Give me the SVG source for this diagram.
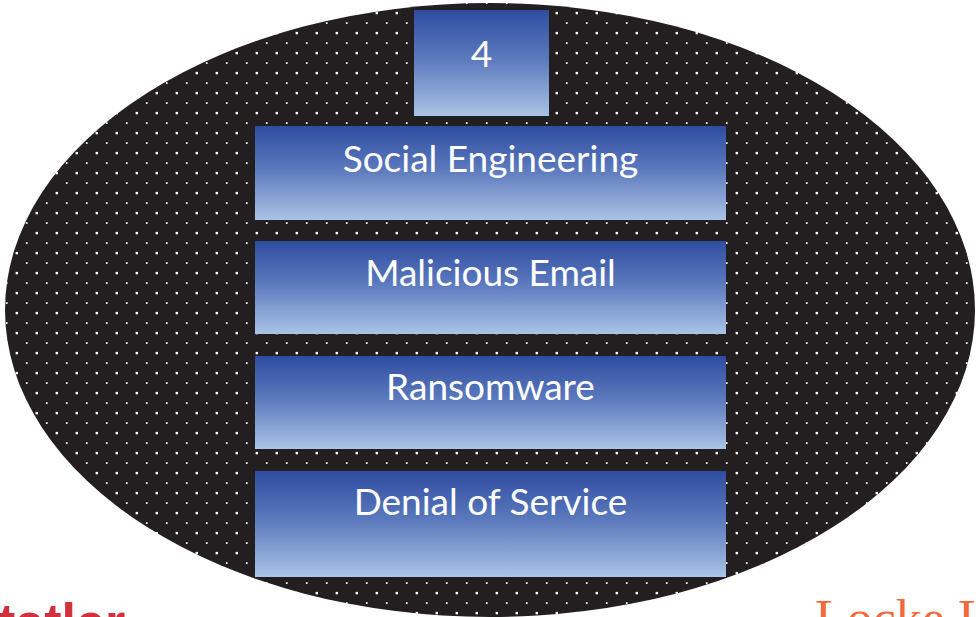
<svg xmlns="http://www.w3.org/2000/svg" width="978" height="617" viewBox="0 0 978 617">
<defs>
<pattern id="dots" patternUnits="userSpaceOnUse" width="20" height="20">
<rect width="20" height="20" fill="#231F20"/>
<rect x="15.6" y="11.9" width="2.4" height="2.4" fill="#FFFFFF"/>
<rect x="5.9" y="2.2" width="1.7" height="1.7" fill="#FFFFFF"/>
</pattern>
<linearGradient id="blue" x1="0" y1="0" x2="0" y2="1">
<stop offset="0" stop-color="#2F4DA0"/>
<stop offset="0.45" stop-color="#5A78BC"/>
<stop offset="1" stop-color="#AAC3E6"/>
</linearGradient>
<style>
.box{fill:url(#blue);}
.lbl{font-family:"Lato","Open Sans",sans-serif;fill:#FFFFFF;text-anchor:middle;font-size:37px;}
</style>
</defs>
<rect width="978" height="617" fill="#FFFFFF"/>
<text x="-2" y="640" font-family="Liberation Sans, Arial, sans-serif" font-weight="bold" font-size="52" fill="#D1313C">tatler</text>
<text x="815" y="636" font-family="Liberation Serif, serif" font-size="52" fill="#F26A3B">Locke L</text>
<ellipse id="oval" cx="490" cy="310" rx="485" ry="307" fill="url(#dots)"/>
<g id="connectors"></g>
<g id="n4"><rect class="box" x="414" y="10" width="135" height="106"/><text class="lbl" x="481.5" y="67" font-size="42">4</text></g>
<g id="n1"><rect class="box" x="255" y="126" width="471" height="94"/><text class="lbl" x="490.5" y="172">Social Engineering</text></g>
<g id="n2"><rect class="box" x="255" y="241" width="471" height="93"/><text class="lbl" x="490.5" y="286">Malicious Email</text></g>
<g id="n3"><rect class="box" x="255" y="356" width="471" height="93"/><text class="lbl" x="490.5" y="400">Ransomware</text></g>
<g id="n5"><rect class="box" x="255" y="471" width="471" height="106"/><text class="lbl" x="490.5" y="515">Denial of Service</text></g>
</svg>
